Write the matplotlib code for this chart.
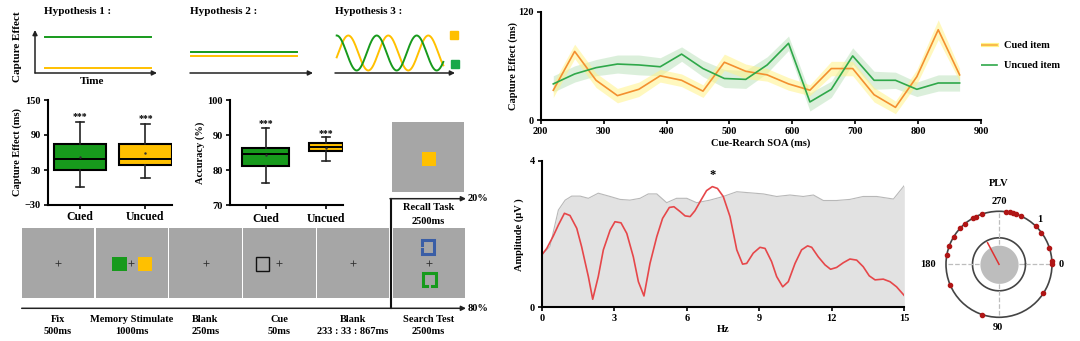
import numpy as np
import matplotlib
matplotlib.use('Agg')
import matplotlib.pyplot as plt
from matplotlib.patches import Rectangle

plt.rcParams['font.family'] = ['Liberation Serif', 'DejaVu Serif']
plt.rcParams['font.weight'] = 'bold'
plt.rcParams['axes.labelweight'] = 'bold'

W, H = 1080, 341
GREEN = '#179a1c'
YELLOW = '#ffc000'
GRAY = '#a6a6a6'

# Box plots: capture effect and accuracy
box_groups = ['Cued', 'Uncued']
capture_q1 = [29.5, 38]
capture_med = [49, 49]
capture_q3 = [74, 74]
capture_lo = [1.5, 16]
capture_hi = [112, 109]
capture_mean = [52, 58.5]

acc_q1 = [81.2, 85.5]
acc_med = [84.5, 86.5]
acc_q3 = [86.3, 87.6]
acc_lo = [76.4, 82.6]
acc_hi = [92, 89.5]
acc_mean = [84.2, 86.4]

# Capture effect over cue-search SOA
soa = [220, 254, 288, 322, 356, 390, 424, 458, 492, 526,
       560, 594, 628, 662, 696, 730, 764, 798, 832, 866]
cued_effect = [33, 76, 44, 27, 34, 49, 44, 32, 64, 54,
               50, 40, 33, 57, 57, 28, 14, 48, 100, 50]
uncued_effect = [40, 51, 58, 62, 61, 59, 73, 57, 46, 45,
                 61, 85, 20, 34, 71, 44, 44, 34, 41, 41]
cued_sem = [8, 8, 8, 8, 8, 7, 7, 7, 9, 8, 7, 7, 6, 8, 8, 8, 7, 8, 11, 7]
uncued_sem = [9, 9, 9, 10, 11, 10, 8, 9, 10, 10, 9, 8, 10, 9, 9, 10, 9, 8, 9, 9]

# Amplitude spectrum and surrogate threshold
freq = [0.0, 0.21, 0.48, 0.69, 0.94, 1.17, 1.45, 1.65, 1.93, 2.11, 2.34, 2.55,
        2.83, 3.03, 3.28, 3.52, 3.79, 4.0, 4.23, 4.48, 4.76, 5.0, 5.28, 5.47,
        5.72, 5.93, 6.14, 6.34, 6.58, 6.82, 7.06, 7.27, 7.51, 7.79, 8.07, 8.31,
        8.48, 8.75, 9.03, 9.24, 9.51, 9.72, 9.97, 10.2, 10.48, 10.75, 11.0,
        11.17, 11.44, 11.72, 11.95, 12.2, 12.48, 12.75, 13.03, 13.3, 13.55,
        13.79, 14.13, 14.41, 14.68, 15.0]
amplitude = [1.43, 1.61, 1.95, 2.25, 2.57, 2.51, 2.16, 1.66, 0.84, 0.22, 0.84,
             1.57, 2.11, 2.34, 2.31, 2.02, 1.38, 0.70, 0.31, 1.2, 1.93, 2.43,
             2.73, 2.75, 2.62, 2.50, 2.48, 2.64, 2.92, 3.19, 3.30, 3.25, 3.03,
             2.48, 1.57, 1.18, 1.2, 1.48, 1.64, 1.61, 1.25, 0.84, 0.56, 0.70,
             1.2, 1.57, 1.68, 1.64, 1.38, 1.16, 1.04, 1.09, 1.22, 1.32, 1.29,
             1.11, 0.86, 0.75, 0.77, 0.70, 0.56, 0.32]
thr_freq = [0.0, 0.34, 0.69, 0.97, 1.24, 1.59, 1.93, 2.34, 2.83, 3.24, 3.65,
            4.07, 4.41, 4.76, 5.17, 5.58, 6.0, 6.41, 6.96, 7.51, 8.07, 8.62,
            9.17, 9.72, 10.27, 10.82, 11.24, 11.65, 12.2, 12.75, 13.3, 13.86,
            14.55, 15.0]
threshold = [1.43, 1.66, 2.66, 2.93, 3.04, 3.04, 2.98, 3.12, 3.03, 2.95, 2.93,
             2.98, 3.1, 3.1, 2.86, 2.98, 2.98, 2.86, 2.93, 3.03, 3.16, 3.13,
             3.1, 3.03, 3.07, 3.03, 3.07, 2.92, 2.92, 2.95, 3.03, 3.03, 2.96,
             3.33]

# Phase locking (degrees, clockwise, 0 = right)
subject_phase = [277.6, 281.9, 285.5, 288.7, 294.1, 314.5, 323.2, 341.8, 356,
                 359.3, 33.4, 108.3, 157.4, 190.1, 200.3, 211.2, 222.7, 229.8,
                 240.2, 244.2, 250.9]
subject_plv = [1.0] * len(subject_phase)
mean_phase = 242
mean_plv = 0.46
surrogate_plv = 0.36

# Trial sequence
trial_events = ['Fix', 'Memory Stimulate', 'Blank', 'Cue', 'Blank', 'Search Test']
trial_durations = ['500ms', '1000ms', '250ms', '50ms', '233 : 33 : 867ms', '2500ms']

fig = plt.figure(figsize=(W / 100, H / 100), dpi=100)


def px_axes(x0, y0, x1, y1, **kw):
    return fig.add_axes([x0 / W, 1 - y1 / H, (x1 - x0) / W, (y1 - y0) / H], **kw)


def style_axes(ax):
    for s in ['top', 'right']:
        ax.spines[s].set_visible(False)
    for s in ['left', 'bottom']:
        ax.spines[s].set_linewidth(1.5)
    ax.tick_params(direction='out', length=3, width=1.2, labelsize=7.5, pad=2)


# ---------- schematic overlay (pixel coordinates)
ov = fig.add_axes([0, 0, 1, 1])
ov.set_xlim(0, W)
ov.set_ylim(H, 0)
ov.axis('off')

arrow = dict(arrowstyle='-|>', lw=1.1, color='#222222', mutation_scale=7,
             shrinkA=0, shrinkB=0)

for x, name in [(44, 'Hypothesis 1 :'), (190, 'Hypothesis 2 :'), (335, 'Hypothesis 3 :')]:
    ov.text(x, 11, name, fontsize=8, ha='left', va='center')

# hypothesis 1
ov.annotate('', xy=(35, 30), xytext=(35, 73), arrowprops=arrow)
ov.annotate('', xy=(157, 73), xytext=(35, 73), arrowprops=arrow)
ov.plot([45, 151], [37.3, 37.3], color=GREEN, lw=1.4)
ov.plot([45, 151], [68.3, 68.3], color=YELLOW, lw=1.4)
ov.text(17, 47, 'Capture Effect', rotation=90, fontsize=8, ha='center', va='center')
ov.text(92, 81, 'Time', fontsize=8, ha='center', va='center')

# hypothesis 2
ov.annotate('', xy=(313, 73), xytext=(190, 73), arrowprops=arrow)
ov.plot([191, 297], [51.7, 51.7], color=GREEN, lw=1.4)
ov.plot([191, 297], [55.7, 55.7], color=YELLOW, lw=1.4)

# hypothesis 3 (schematic oscillations)
ov.annotate('', xy=(455, 73), xytext=(335, 73), arrowprops=arrow)
hx = np.linspace(336.7, 443.3, 200)
ov.plot(hx, 53 - 17.5 * np.cos(2 * np.pi * (hx - 348.3) / 40), color=YELLOW, lw=1.4)
ov.plot(hx, 53 - 17.5 * np.cos(2 * np.pi * (hx - 336.7) / 40), color=GREEN, lw=1.4)
ov.add_patch(Rectangle((449.5, 30.5), 8.5, 8.5, color=YELLOW))
ov.add_patch(Rectangle((450.5, 59.5), 8.5, 8.5, color='#18a84a'))

# trial sequence boxes
box_x = [21.7, 95.7, 169.3, 243.3, 316.7, 392.7]
for i, x in enumerate(box_x):
    ov.add_patch(Rectangle((x, 228.3), 72.3, 70, color=GRAY, lw=0))
    ov.text(x + 36, 319, trial_events[i], fontsize=7.5, ha='center', va='center')
    ov.text(x + 36, 331.5, trial_durations[i], fontsize=7.5, ha='center', va='center')
for x in [57.7, 131, 205.5, 278.5, 352.7, 429]:
    ov.plot(x, 263.3, marker='+', ms=4, mew=0.6, color='#333333')
ov.add_patch(Rectangle((112.3, 256.7), 14.3, 14, color=GREEN, lw=0))
ov.add_patch(Rectangle((137.7, 256.7), 14.3, 14, color=YELLOW, lw=0))
ov.add_patch(Rectangle((255.5, 256.5), 13.8, 14, fill=False, ec='#111111', lw=1))
# search items
bx0, bx1, by0, by1 = 422, 434, 240, 253.5
ov.plot([bx0, bx0, bx1, bx1, bx0, bx0], [244.5, by0, by0, by1, by1, 249],
        color='#3a5ea6', lw=2.2, solid_joinstyle='miter')
gx0, gx1, gy0, gy1 = 423, 435.5, 272.5, 286
ov.plot([426.5, gx0, gx0, gx1, gx1, 432], [gy1, gy1, gy0, gy0, gy1, gy1],
        color=GREEN, lw=2.2, solid_joinstyle='miter')

# timeline arrows
ov.annotate('', xy=(466, 308.3), xytext=(21.7, 308.3), arrowprops=arrow)
ov.text(468, 308.3, '80%', fontsize=7.5, ha='left', va='center')
ov.plot([390.7, 390.7], [308.3, 198.7], color='#111111', lw=1.5)
ov.annotate('', xy=(466, 198.7), xytext=(390, 198.7), arrowprops=arrow)
ov.text(468, 198.7, '20%', fontsize=7.5, ha='left', va='center')
ov.add_patch(Rectangle((392.3, 122.3), 72, 69.4, color=GRAY, lw=0))
ov.add_patch(Rectangle((421.7, 151.7), 14.3, 14.3, color=YELLOW, lw=0))
ov.text(428.3, 208, 'Recall Task', fontsize=7.5, ha='center', va='center')
ov.text(428.3, 221.5, '2500ms', fontsize=7.5, ha='center', va='center')

# ---------- box plots
def draw_box(ax, q1, med, q3, lo, hi, mean, widths, colors):
    stats = [dict(label=g, q1=q1[i], med=med[i], q3=q3[i], whislo=lo[i],
                  whishi=hi[i], mean=mean[i], fliers=[])
             for i, g in enumerate(box_groups)]
    bp = ax.bxp(stats, positions=[1, 2], widths=widths, patch_artist=True,
                showmeans=True, capwidths=0.13,
                meanprops=dict(marker='.', ms=1.5, mfc='#333333', mec='#333333'),
                medianprops=dict(color='k', lw=1.4),
                boxprops=dict(lw=1.5, edgecolor='k'),
                whiskerprops=dict(lw=1.2, color='#222222'),
                capprops=dict(lw=1.2, color='#222222'))
    for patch, c in zip(bp['boxes'], colors):
        patch.set_facecolor(c)
    style_axes(ax)


ax1 = px_axes(47.7, 100, 172, 205)
draw_box(ax1, capture_q1, capture_med, capture_q3, capture_lo, capture_hi,
         capture_mean, [0.8, 0.8], [GREEN, YELLOW])
ax1.tick_params(axis='x', labelsize=8.5, pad=1)
ax1.set_xlim(0.507, 2.405)
ax1.set_ylim(-30, 150)
ax1.set_yticks([-30, 30, 90, 150])
ax1.set_ylabel('Capture Effect (ms)', fontsize=7.5, labelpad=2)
ax1.text(1, 122, '***', ha='center', va='center', fontsize=7)
ax1.text(2, 119, '***', ha='center', va='center', fontsize=7)

ax2 = px_axes(230, 100, 343, 205)
draw_box(ax2, acc_q1, acc_med, acc_q3, acc_lo, acc_hi, acc_mean,
         [0.79, 0.56], [GREEN, YELLOW])
ax2.tick_params(axis='x', labelsize=8.5, pad=3)
ax2.set_xlim(0.413, 2.28)
ax2.set_ylim(70, 100)
ax2.set_yticks([70, 80, 90, 100])
ax2.set_ylabel('Accuracy (%)', fontsize=7.5, labelpad=2)
ax2.text(1, 93.2, '***', ha='center', va='center', fontsize=7)
ax2.text(2, 90.4, '***', ha='center', va='center', fontsize=7)

# ---------- capture effect over SOA
ax3 = px_axes(540.7, 11.7, 981, 120)
soa_a = np.array(soa)
ce_c, ce_u = np.array(cued_effect), np.array(uncued_effect)
ax3.fill_between(soa_a, ce_u - np.array(uncued_sem), ce_u + np.array(uncued_sem),
                 color='#bfe3bf', alpha=0.55, lw=0)
ax3.fill_between(soa_a, ce_c - np.array(cued_sem), ce_c + np.array(cued_sem),
                 color='#fff38a', alpha=0.55, lw=0)
ax3.plot(soa_a, ce_c, color='#f39030', lw=1.2)
ax3.plot(soa_a, ce_u, color='#2fa84a', lw=1.2)
ax3.set_xlim(200, 900)
ax3.set_ylim(0, 120)
ax3.set_yticks([0, 120])
ax3.set_xticks(range(200, 901, 100))
style_axes(ax3)
ax3.set_xlabel('Cue-Rearch SOA (ms)', fontsize=7.5, labelpad=2)
ax3.set_ylabel('Capture Effect (ms)', fontsize=7.5, labelpad=0)

# legend
ov.plot([962, 997], [45, 45], color='#fff38a', lw=3)
ov.plot([962, 997], [45, 45], color='#f8b040', lw=1.2)
ov.plot([962, 997], [65, 65], color='#2fa84a', lw=1.2)
ov.text(1004, 45, 'Cued item', fontsize=7.5, va='center')
ov.text(1004, 65, 'Uncued item', fontsize=7.5, va='center')

# ---------- amplitude spectrum
ax4 = px_axes(541.7, 161, 904.3, 307.3)
ax4.fill_between(thr_freq, 0, threshold, color='#e2e2e2', lw=0)
ax4.plot(thr_freq, threshold, color='#b8b8b8', lw=0.8)
ax4.plot(freq, amplitude, color='#e6474a', lw=1.2)
ax4.text(7.05, 3.62, '*', ha='center', va='center', fontsize=9)
ax4.set_xlim(0, 15)
ax4.set_ylim(0, 4)
ax4.set_xticks([0, 3, 6, 9, 12, 15])
ax4.set_yticks([0, 4])
style_axes(ax4)
ax4.set_xlabel('Hz', fontsize=7.5, labelpad=1)
ax4.set_ylabel('Amplitude (μV )', fontsize=7.5, labelpad=4)

# ---------- PLV polar
ax5 = px_axes(946, 211.3, 1052, 317.3, projection='polar')
ax5.set_theta_zero_location('E')
ax5.set_theta_direction(-1)
ax5.set_ylim(0, 1)
ax5.grid(False)
ax5.set_xticks([])
ax5.set_yticks([])
ax5.spines['polar'].set_color('#444444')
ax5.spines['polar'].set_linewidth(1.2)
circ = np.linspace(0, 2 * np.pi, 200)
ax5.fill_between(circ, 0, surrogate_plv, color='#bdbdbd', lw=0)
ax5.plot(circ, [0.5] * len(circ), color='#444444', lw=1.2)
for ang in [0, 90, 180, 270]:
    ax5.plot([np.deg2rad(ang)] * 2, [0, 1], color='#bdbdbd', lw=0.9, ls='--')
ax5.plot([np.deg2rad(mean_phase)] * 2, [0, mean_plv], color='#e03030', lw=1.1)
ax5.scatter(np.deg2rad(subject_phase), subject_plv, s=9, color='#b01515',
            zorder=5, clip_on=False)

ov.text(999, 183.5, 'PLV', fontsize=7.5, ha='center', va='center')
ov.text(999, 202, '270', fontsize=7.5, ha='center', va='center')
ov.text(998, 327, '90', fontsize=7.5, ha='center', va='center')
ov.text(928, 264.3, '180', fontsize=7.5, ha='center', va='center')
ov.text(1061, 264.3, '0', fontsize=7.5, ha='center', va='center')
ov.text(1039.5, 220, '1', fontsize=7.5, ha='center', va='center')
ov.text(1025, 240, '0.5', fontsize=7.5, ha='center', va='center')
ov.text(1006.5, 257.5, '0', fontsize=7.5, ha='center', va='center')

fig.savefig('out.png', dpi=100)
